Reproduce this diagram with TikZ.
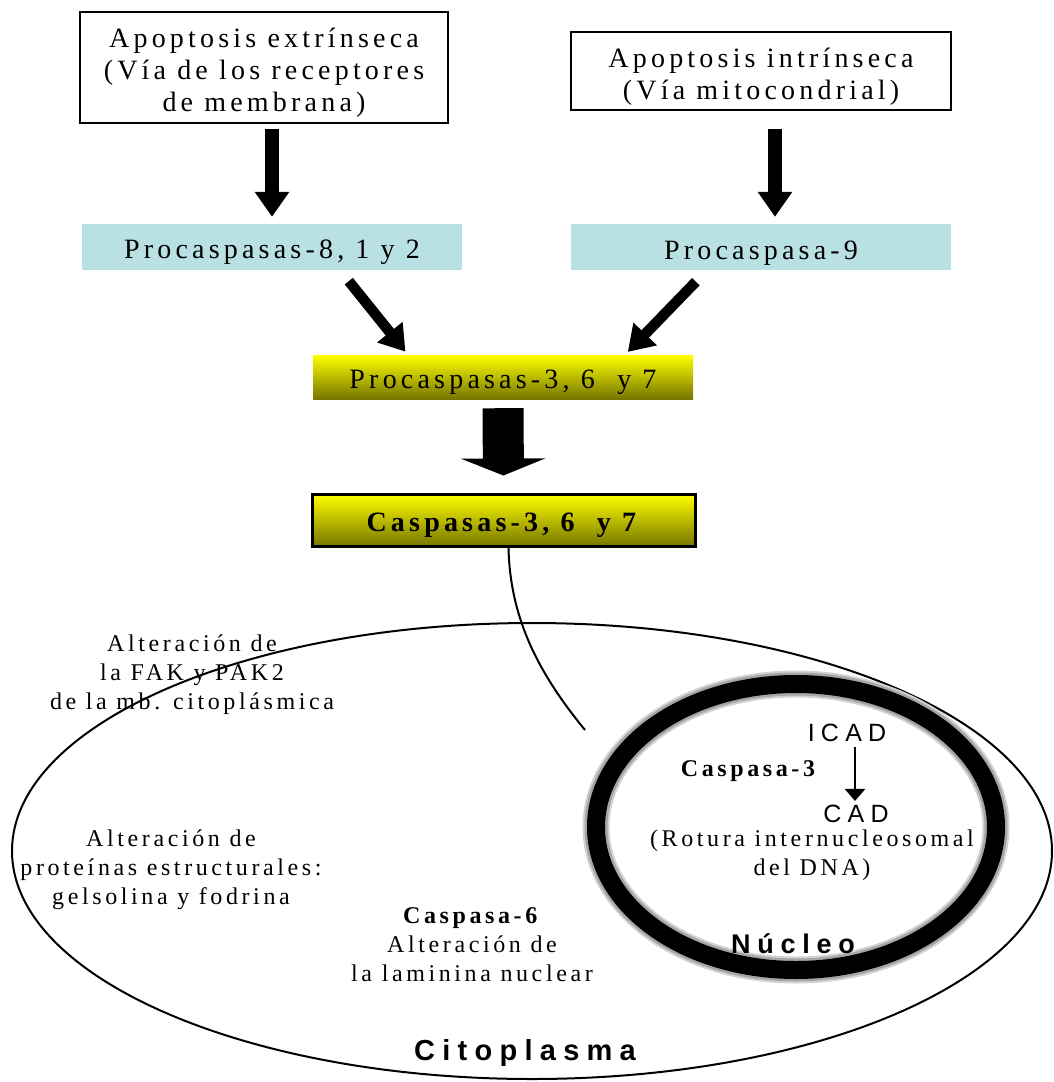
\documentclass[tikz,border=0pt]{standalone}
\usepackage{fontspec}
\usepackage{tikz}
\usetikzlibrary{arrows.meta}
\setmainfont{Liberation Serif}[LetterSpace=15]
\newfontfamily\sanssp{Liberation Sans}[LetterSpace=25]
\definecolor{procyan}{RGB}{185,224,226}
\definecolor{darkolive}{RGB}{118,118,0}

\begin{document}
\begin{tikzpicture}[x=1pt,y=-1pt,
	boxtxt/.style={align=center,font=\fontsize{28}{32}\selectfont},
	celltxt/.style={align=center,font=\fontsize{24}{29}\selectfont},
	sanslbl/.style={font=\sanssp\fontsize{25}{30}\selectfont,inner sep=0pt},
	whitebox/.style={draw=black,line width=1.5pt,boxtxt,inner sep=0pt},
	cyanbox/.style={fill=procyan,boxtxt,minimum width=380pt,minimum height=46pt,inner sep=0pt},
	yellowbox/.style={top color=yellow,middle color=yellow!93!black,bottom color=darkolive,boxtxt,inner sep=0pt},
	fat/.style={line width=14pt,-{Triangle[width=33pt,length=25pt]}},
	slant/.style={line width=10.5pt,-{Triangle[width=31pt,length=25pt]}},
	huge/.style={line width=41pt,-{Triangle[width=84pt,length=17pt]}},
	thinline/.style={line width=2pt}]

	\useasboundingbox (0,0) rectangle (1053,1082);

	% entradas
	\node[whitebox,minimum width=368pt,minimum height=111pt] (ext) at (264,67.5)
		{\rule{0pt}{30pt}Apoptosis extrínseca\\(Vía de los receptores\\de membrana)};
	\node[whitebox,minimum width=380pt,minimum height=78pt] (intr) at (761,71)
		{\rule{0pt}{30pt}Apoptosis intrínseca\\(Vía mitocondrial)};

	\node[cyanbox] (pc8) at (272,247) {\rule{0pt}{30pt}Procaspasas-8, 1 y 2};
	\node[cyanbox] (pc9) at (761,247) {\rule{0pt}{30pt}Procaspasa-9};

	\node[yellowbox,minimum width=380pt,minimum height=44pt] (pc37) at (503,377) {\rule{0pt}{30pt}Procaspasas-3, 6 \ y 7};
	\node[yellowbox,draw=black,line width=3pt,minimum width=383pt,minimum height=52pt] (casp) at (503.5,520)
		{\rule{0pt}{30pt}\textbf{Caspasas-3, 6 \ y 7}};

	\draw[fat,shorten <=5pt,shorten >=7pt] (pc8.north |- ext.south) -- (pc8.north);
	\draw[fat,shorten <=18pt,shorten >=7pt] ([xshift=14pt]pc9.north |- intr.south) -- ([xshift=14pt]pc9.north);
	\draw[slant,shorten <=14pt,shorten >=4pt] ([xshift=68pt]pc8.south) -- ([xshift=-95pt]pc37.north);
	\draw[slant,shorten <=16pt,shorten >=4pt] ([xshift=-54pt]pc9.south) -- ([xshift=122pt]pc37.north);
	\draw[huge,shorten <=9pt,shorten >=17pt] (pc37.south) -- (casp.north);

	% celula
	\draw[thinline] (532,851) ellipse [x radius=520pt,y radius=228pt];
	\draw[gray!35,line width=27pt] (796,827) ellipse [x radius=200pt,y radius=143pt];
	\draw[gray!70,line width=23pt] (796,827) ellipse [x radius=200pt,y radius=143pt];
	\draw[black,line width=18pt] (796,827) ellipse [x radius=200pt,y radius=143pt];

	\coordinate (tail) at (585,730);
	\draw[thinline] ([xshift=5pt]casp.south) .. controls (510,620) and (540,675) .. (tail);

	\node[celltxt] (fak) at (192,675) {Alteración de\\la FAK y PAK2\\de la mb. citoplásmica};
	\node[celltxt] (gel) at (171,870) {Alteración de\\proteínas estructurales:\\gelsolina y fodrina};
	\node[celltxt] (lam) at (472,945) {\textbf{Caspasa-6}\\Alteración de\\la laminina nuclear};

	\node[sanslbl] (icad) at (847,733) {ICAD};
	\node[sanslbl] (cad) at (856,814) {CAD};
	\node[celltxt,font=\bfseries\fontsize{24}{29}\selectfont] (c3) at (748,771) {Caspasa-3};
	\node[celltxt] (rot) at (812,855) {(Rotura internucleosomal\\del DNA)};
	\draw[line width=2.5pt,-{Triangle[width=20pt,length=12pt]},shorten <=5pt,shorten >=4pt]
		([xshift=8pt]icad.south) -- ([xshift=-1pt]cad.north);

	\node[font=\sanssp\bfseries\fontsize{27}{30}\selectfont] (nuc) at (793,944) {Núcleo};
	\node[font=\sanssp\bfseries\fontsize{29}{32}\selectfont] (cito) at (525,1053) {Citoplasma};

\end{tikzpicture}
\end{document}
